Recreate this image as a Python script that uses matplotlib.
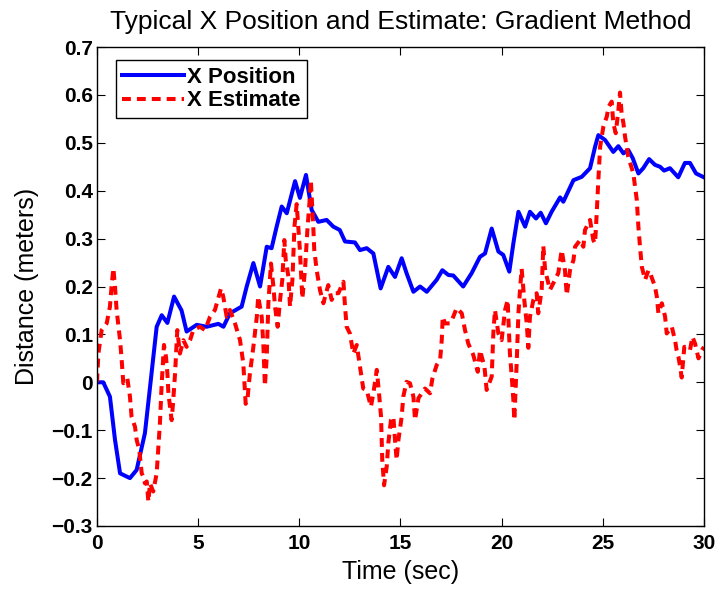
import matplotlib.pyplot as plt

# true x position of the target (sec, meters)
t_pos = [0.0, 0.31, 0.64, 0.89, 1.14, 1.38, 1.63, 1.96, 2.37, 2.70, 2.95, 3.2, 3.48, 3.81,
         4.18, 4.43, 4.93, 5.42, 6.0, 6.25, 6.57, 7.15, 7.4, 7.73, 8.06, 8.39, 8.63, 8.88,
         9.13, 9.38, 9.79, 10.03, 10.33, 10.61, 10.94, 11.35, 11.68, 12.0, 12.26, 12.75,
         13.0, 13.33, 13.66, 14.02, 14.4, 14.73, 15.06, 15.3, 15.64, 15.97, 16.3, 16.79,
         17.07, 17.37, 17.61, 18.1, 18.52, 18.93, 19.18, 19.51, 19.84, 20.08, 20.38, 20.58,
         20.83, 21.16, 21.4, 21.7, 21.93, 22.19, 22.47, 22.89, 23.05, 23.55, 23.96, 24.37,
         24.62, 24.78, 25.11, 25.52, 25.77, 26.02, 26.26, 26.48, 26.76, 27.0, 27.29, 27.58,
         27.83, 28.03, 28.32, 28.73, 29.06, 29.31, 29.61, 30.0]
x_pos = [0.0, 0.0, -0.03, -0.12, -0.19, -0.195, -0.20, -0.183, -0.106, 0.02, 0.116, 0.14,
         0.124, 0.179, 0.15, 0.106, 0.12, 0.116, 0.122, 0.116, 0.144, 0.158, 0.2, 0.249, 0.2,
         0.283, 0.28, 0.325, 0.367, 0.353, 0.42, 0.385, 0.433, 0.36, 0.335, 0.339, 0.325,
         0.318, 0.294, 0.292, 0.276, 0.28, 0.269, 0.196, 0.241, 0.22, 0.259, 0.228, 0.189,
         0.2, 0.189, 0.214, 0.234, 0.224, 0.223, 0.2, 0.228, 0.262, 0.269, 0.321, 0.273,
         0.266, 0.231, 0.29, 0.356, 0.325, 0.356, 0.342, 0.354, 0.332, 0.356, 0.386, 0.377,
         0.422, 0.429, 0.447, 0.492, 0.516, 0.506, 0.481, 0.493, 0.478, 0.485, 0.468, 0.436,
         0.447, 0.466, 0.454, 0.45, 0.442, 0.447, 0.428, 0.458, 0.458, 0.436, 0.428]

# gradient method estimate
t_est = [0.0, 0.07, 0.23, 0.48, 0.64, 0.72, 0.81, 0.89, 0.97, 1.14, 1.22, 1.3, 1.5, 1.63,
         1.71, 1.88, 1.96, 2.09, 2.21, 2.29, 2.37, 2.46, 2.54, 2.62, 2.78, 2.95, 3.11, 3.2,
         3.31, 3.41, 3.48, 3.53, 3.69, 3.77, 3.86, 3.97, 4.1, 4.27, 4.43, 4.6, 4.76, 5.09,
         5.34, 5.59, 5.83, 6.13, 6.24, 6.41, 6.57, 6.82, 7.07, 7.23, 7.35, 7.45, 7.56, 7.73,
         7.9, 7.97, 8.14, 8.22, 8.3, 8.39, 8.47, 8.6, 8.72, 8.8, 8.93, 9.05, 9.16, 9.26,
         9.33, 9.46, 9.54, 9.66, 9.76, 9.87, 9.95, 10.03, 10.15, 10.28, 10.4, 10.5, 10.57,
         10.64, 10.69, 10.74, 10.86, 11.02, 11.19, 11.43, 11.6, 11.76, 11.93, 12.18, 12.26,
         12.34, 12.5, 12.67, 12.84, 13.0, 13.16, 13.33, 13.54, 13.66, 13.83, 13.94, 14.04,
         14.1, 14.19, 14.32, 14.4, 14.53, 14.65, 14.73, 14.81, 14.9, 15.06, 15.14, 15.3,
         15.47, 15.64, 15.72, 15.89, 16.21, 16.46, 16.58, 16.79, 16.96, 17.04, 17.09, 17.2,
         17.45, 17.61, 17.78, 18.03, 18.19, 18.35, 18.6, 18.82, 18.93, 19.15, 19.26, 19.51,
         19.59, 19.67, 19.84, 20.0, 20.17, 20.3, 20.33, 20.41, 20.5, 20.58, 20.63, 20.75,
         20.83, 20.91, 20.99, 21.12, 21.24, 21.32, 21.4, 21.57, 21.73, 21.81, 21.98, 22.06,
         22.15, 22.31, 22.39, 22.64, 22.8, 22.97, 23.13, 23.22, 23.38, 23.55, 23.63, 23.88,
         24.04, 24.12, 24.37, 24.53, 24.62, 24.7, 24.78, 24.87, 25.03, 25.2, 25.28, 25.44,
         25.52, 25.64, 25.77, 25.85, 25.93, 26.02, 26.1, 26.26, 26.51, 26.68, 26.76, 26.84,
         26.93, 27.09, 27.26, 27.34, 27.58, 27.67, 27.75, 27.92, 28.08, 28.16, 28.41, 28.57,
         28.65, 28.74, 28.82, 28.9, 29.03, 29.15, 29.31, 29.43, 29.56, 29.73, 29.9, 30.0]
x_est = [0.0, 0.06, 0.109, 0.123, 0.158, 0.2, 0.238, 0.2, 0.151, 0.088, 0.047, -0.002,
         0.008, -0.03, -0.072, -0.093, -0.12, -0.141, -0.19, -0.197, -0.211, -0.207, -0.249,
         -0.211, -0.228, -0.19, -0.086, -0.002, 0.078, 0.053, 0.019, -0.023, -0.079, -0.037,
         0.019, 0.109, 0.06, 0.088, 0.074, 0.088, 0.109, 0.116, 0.109, 0.137, 0.151, 0.196,
         0.179, 0.137, 0.151, 0.123, 0.088, 0.04, -0.045, -0.03, 0.019, 0.074, 0.137, 0.179,
         0.137, 0.081, -0.008, 0.053, 0.165, 0.248, 0.2, 0.158, 0.116, 0.172, 0.214, 0.297,
         0.255, 0.221, 0.158, 0.214, 0.325, 0.372, 0.325, 0.276, 0.175, 0.234, 0.318, 0.374,
         0.422, 0.367, 0.325, 0.276, 0.234, 0.193, 0.165, 0.203, 0.172, 0.186, 0.186, 0.21,
         0.158, 0.116, 0.102, 0.06, 0.078, 0.033, -0.013, -0.016, -0.051, -0.023, 0.026,
         -0.023, -0.072, -0.162, -0.215, -0.176, -0.127, -0.079, -0.072, -0.12, -0.162,
         -0.12, -0.072, -0.03, 0.001, -0.002, -0.03, -0.079, -0.033, -0.013, -0.023, 0.008,
         0.036, 0.047, 0.088, 0.137, 0.123, 0.123, 0.137, 0.155, 0.144, 0.109, 0.081, 0.057,
         0.022, 0.067, 0.033, -0.016, 0.012, 0.102, 0.151, 0.102, 0.088, 0.151, 0.172, 0.137,
         0.06, 0.012, -0.037, -0.079, 0.047, 0.144, 0.193, 0.237, 0.172, 0.123, 0.072, 0.137,
         0.172, 0.186, 0.144, 0.193, 0.285, 0.234, 0.207, 0.193, 0.214, 0.228, 0.276, 0.234,
         0.182, 0.234, 0.255, 0.283, 0.297, 0.283, 0.318, 0.339, 0.297, 0.29, 0.353, 0.422,
         0.492, 0.534, 0.555, 0.575, 0.586, 0.541, 0.52, 0.568, 0.605, 0.562, 0.541, 0.513,
         0.471, 0.436, 0.381, 0.325, 0.283, 0.241, 0.214, 0.234, 0.228, 0.2, 0.179, 0.144,
         0.165, 0.137, 0.102, 0.116, 0.088, 0.067, 0.053, 0.033, 0.01, 0.074, 0.074, 0.067,
         0.095, 0.081, 0.05, 0.067, 0.074]

x_ticks = [0, 5, 10, 15, 20, 25, 30]
y_ticks = [-0.3, -0.2, -0.1, 0, 0.1, 0.2, 0.3, 0.4, 0.5, 0.6, 0.7]
y_ticklabels = ['\u22120.3', '\u22120.2', '\u22120.1', '0', '0.1', '0.2', '0.3', '0.4', '0.5', '0.6', '0.7']

plt.rcParams['font.family'] = ['Liberation Sans', 'DejaVu Sans']

fig = plt.figure(figsize=(7.2, 5.93), dpi=100)
ax = fig.add_axes([0.1347, 0.113, 0.843, 0.8077])

ax.plot(t_pos, x_pos, color='#0000ff', linewidth=2.9, label='X Position')
ax.plot(t_est, x_est, color='#ff0000', linewidth=2.9, dashes=(2.2, 1.5), label='X Estimate')

ax.set_xlim(0, 30)
ax.set_ylim(-0.3, 0.7)
ax.set_xticks(x_ticks)
ax.set_yticks(y_ticks)
ax.set_yticklabels(y_ticklabels)
ax.tick_params(direction='in', top=True, right=True, length=6, width=0.8, labelsize=15)
ax.tick_params(axis='x', pad=6)
ax.tick_params(axis='y', pad=3)
for lab in ax.get_xticklabels() + ax.get_yticklabels():
    lab.set_fontweight('bold')
for sp in ax.spines.values():
    sp.set_linewidth(1.0)

ax.set_title('Typical X Position and Estimate: Gradient Method', fontsize=19, pad=13)
ax.set_xlabel('Time (sec)', fontsize=18)
ax.set_ylabel('Distance (meters)', fontsize=18)
ax.xaxis.set_label_coords(0.5, -0.07)
ax.yaxis.set_label_coords(-0.095, 0.5)

leg = ax.legend(loc='upper left', bbox_to_anchor=(0.031, 0.973), borderaxespad=0,
                fancybox=False, edgecolor='black', framealpha=1, handlelength=2.75,
                handletextpad=0.15, labelspacing=0.12, borderpad=0.3,
                prop={'weight': 'bold', 'size': 16})
leg.get_frame().set_linewidth(1.0)

fig.savefig('out.png', dpi=100)
